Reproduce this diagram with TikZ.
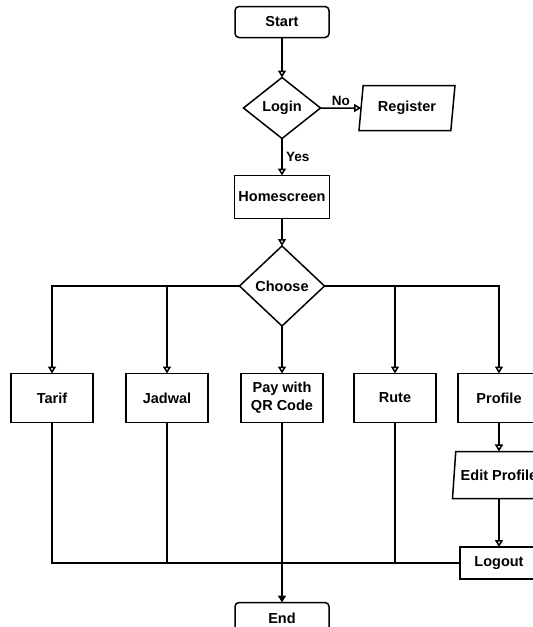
\documentclass[tikz,border=0pt]{standalone}
\usepackage{fontspec}
\setmainfont{Liberation Sans}
\usetikzlibrary{shapes.geometric,arrows.meta}
\tikzstyle{every node}=[font=\fontsize{14.5}{18}\selectfont\bfseries, inner sep=0, outer sep=0]
\tikzstyle{terminal}=[draw, rounded corners=4pt, minimum width=94pt, minimum height=31pt]
\tikzstyle{process}=[draw, minimum width=82pt, minimum height=49pt, align=center]
\tikzstyle{decision}=[draw, diamond, aspect=1]
\tikzstyle{io}=[draw, trapezium, trapezium left angle=73, trapezium right angle=107, trapezium stretches body]
\tikzstyle{flow}=[-{Triangle[open,length=7pt,width=8pt]}]
\tikzstyle{branch}=[font=\fontsize{13.5}{15}\selectfont\bfseries]

\begin{document}
\begin{tikzpicture}[x=1pt,y=-1pt,line width=1.5pt]
		\useasboundingbox (0,0) rectangle (533,627);
		\clip (0,0) rectangle (533,627);
		\node[terminal] (start) at (282,22) {Start};
		\node[decision,minimum width=77pt,minimum height=61pt] (login) at (282,108) {Login};
		\node[io,minimum width=96pt,minimum height=45pt] (register) at (407,108) {Register};
		\node[process,minimum width=95pt,minimum height=43pt] (home) at (282,197) {Homescreen};
		\node[decision,minimum width=85pt,minimum height=80pt] (choose) at (282,286) {Choose};
		\node[process] (tarif) at (52,398) {Tarif};
		\node[process] (jadwal) at (167,398) {Jadwal};
		\node[process] (pay) at (282,398) {Pay with\\QR Code};
		\node[process] (rute) at (395,398) {Rute};
		\node[process] (profile) at (499,398) {Profile};
		\node[io,minimum width=93pt,minimum height=47pt] (edit) at (499,475) {Edit Profile};
		\node[process,minimum width=78pt,minimum height=32pt] (logout) at (499,563) {Logout};
		\node[terminal] (end) at (282,618) {End};
		\draw[flow] (start) -- (login);
		\draw[flow] (login) -- node[branch,above=2pt] {No} (register);
		\draw[flow] (login) -- node[branch,right=4pt] {Yes} (home);
		\draw[flow] (home) -- (choose);
		\draw[flow] (choose.west) -| (tarif);
		\draw[flow] (choose.west) -| (jadwal);
		\draw[flow] (choose) -- (pay);
		\draw[flow] (choose.east) -| (rute);
		\draw[flow] (choose.east) -| (profile);
		\draw[flow] (profile) -- (edit);
		\draw[flow] (edit) -- (logout);
		\draw (tarif) |- (logout);
		\draw (jadwal) -- (jadwal |- logout);
		\draw (rute) -- (rute |- logout);
		\draw[-{Triangle[length=7pt,width=8pt]}] (pay) -- (end);
	\end{tikzpicture}
\end{document}
